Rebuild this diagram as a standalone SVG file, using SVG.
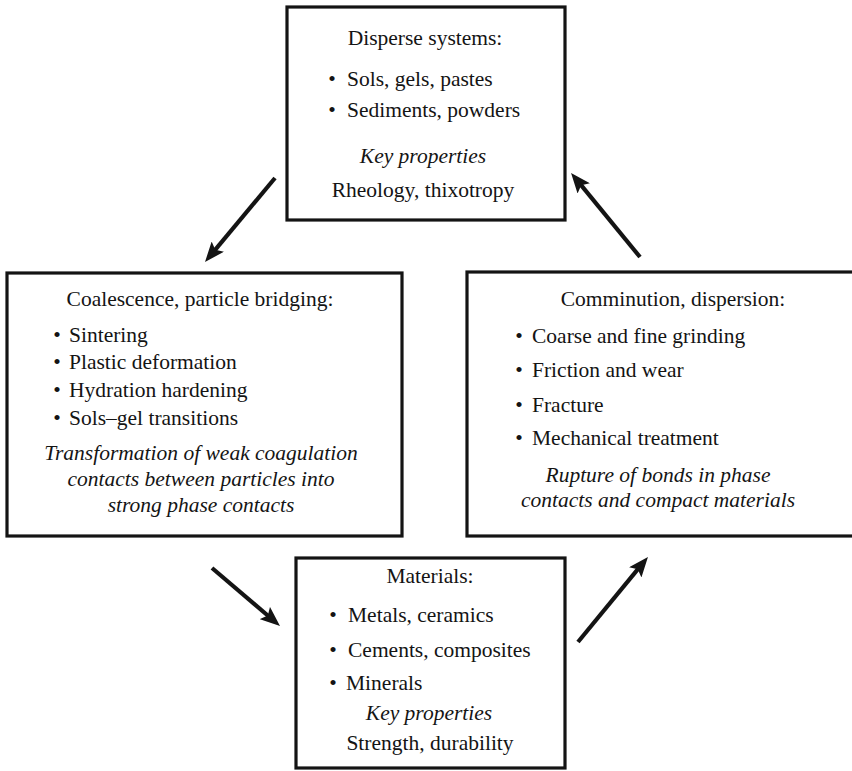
<svg xmlns="http://www.w3.org/2000/svg" width="852" height="771" viewBox="0 0 852 771">
<style>
.box{fill:#fff;stroke:#141414;stroke-width:3.2}
text{font-family:"Liberation Serif","Times New Roman",serif;font-size:21.5px;fill:#141414}
.c{text-anchor:middle}
.i{font-style:italic}
.arrow{stroke:#141414;stroke-width:4.2;fill:none;stroke-linecap:butt}
</style>
<defs>
<marker id="ah" viewBox="0 0 20 16" refX="10" refY="8" markerWidth="20" markerHeight="16" markerUnits="userSpaceOnUse" orient="auto">
<path d="M0,0 L20,8 L0,16 L4,8 z" fill="#141414"/>
</marker>
</defs>
<rect width="852" height="771" fill="#fff"/>
<g id="connectors">
<line class="arrow" x1="275" y1="178" x2="211.4" y2="254.3" marker-end="url(#ah)"/>
<line class="arrow" x1="640" y1="257" x2="577.4" y2="180.7" marker-end="url(#ah)"/>
<line class="arrow" x1="212" y1="568" x2="272.4" y2="619.5" marker-end="url(#ah)"/>
<line class="arrow" x1="578" y1="642" x2="641.6" y2="564.7" marker-end="url(#ah)"/>
</g>
<g id="disperse-systems">
<rect class="box" x="287" y="7" width="278" height="213"/>
<text class="c" x="425" y="45">Disperse systems:</text>
<text class="c" x="332" y="86">•</text><text x="347" y="86">Sols, gels, pastes</text>
<text class="c" x="332" y="117">•</text><text x="347" y="117">Sediments, powders</text>
<text class="c i" x="423" y="163">Key properties</text>
<text class="c" x="423" y="197">Rheology, thixotropy</text>
</g>
<g id="coalescence">
<rect class="box" x="7" y="273" width="395" height="263"/>
<text class="c" x="200" y="306">Coalescence, particle bridging:</text>
<text class="c" x="57" y="342">•</text><text x="69" y="342">Sintering</text>
<text class="c" x="57" y="369">•</text><text x="69" y="369">Plastic deformation</text>
<text class="c" x="57" y="397">•</text><text x="69" y="397">Hydration hardening</text>
<text class="c" x="57" y="425">•</text><text x="69" y="425">Sols–gel transitions</text>
<text class="c i" x="201" y="460">Transformation of weak coagulation</text>
<text class="c i" x="201" y="486">contacts between particles into</text>
<text class="c i" x="201" y="512">strong phase contacts</text>
</g>
<g id="comminution">
<rect class="box" x="467" y="272" width="392" height="264"/>
<text class="c" x="673" y="306">Comminution, dispersion:</text>
<text class="c" x="519" y="343">•</text><text x="532" y="343">Coarse and fine grinding</text>
<text class="c" x="519" y="377">•</text><text x="532" y="377">Friction and wear</text>
<text class="c" x="519" y="412">•</text><text x="532" y="412">Fracture</text>
<text class="c" x="519" y="445">•</text><text x="532" y="445">Mechanical treatment</text>
<text class="c i" x="658" y="482">Rupture of bonds in phase</text>
<text class="c i" x="658" y="507">contacts and compact materials</text>
</g>
<g id="materials">
<rect class="box" x="296" y="558" width="269" height="210"/>
<text class="c" x="430" y="583">Materials:</text>
<text class="c" x="333" y="622">•</text><text x="348" y="622">Metals, ceramics</text>
<text class="c" x="333" y="657">•</text><text x="348" y="657">Cements, composites</text>
<text class="c" x="333" y="690">•</text><text x="346" y="690">Minerals</text>
<text class="c i" x="429" y="720">Key properties</text>
<text class="c" x="430" y="750">Strength, durability</text>
</g>
</svg>
